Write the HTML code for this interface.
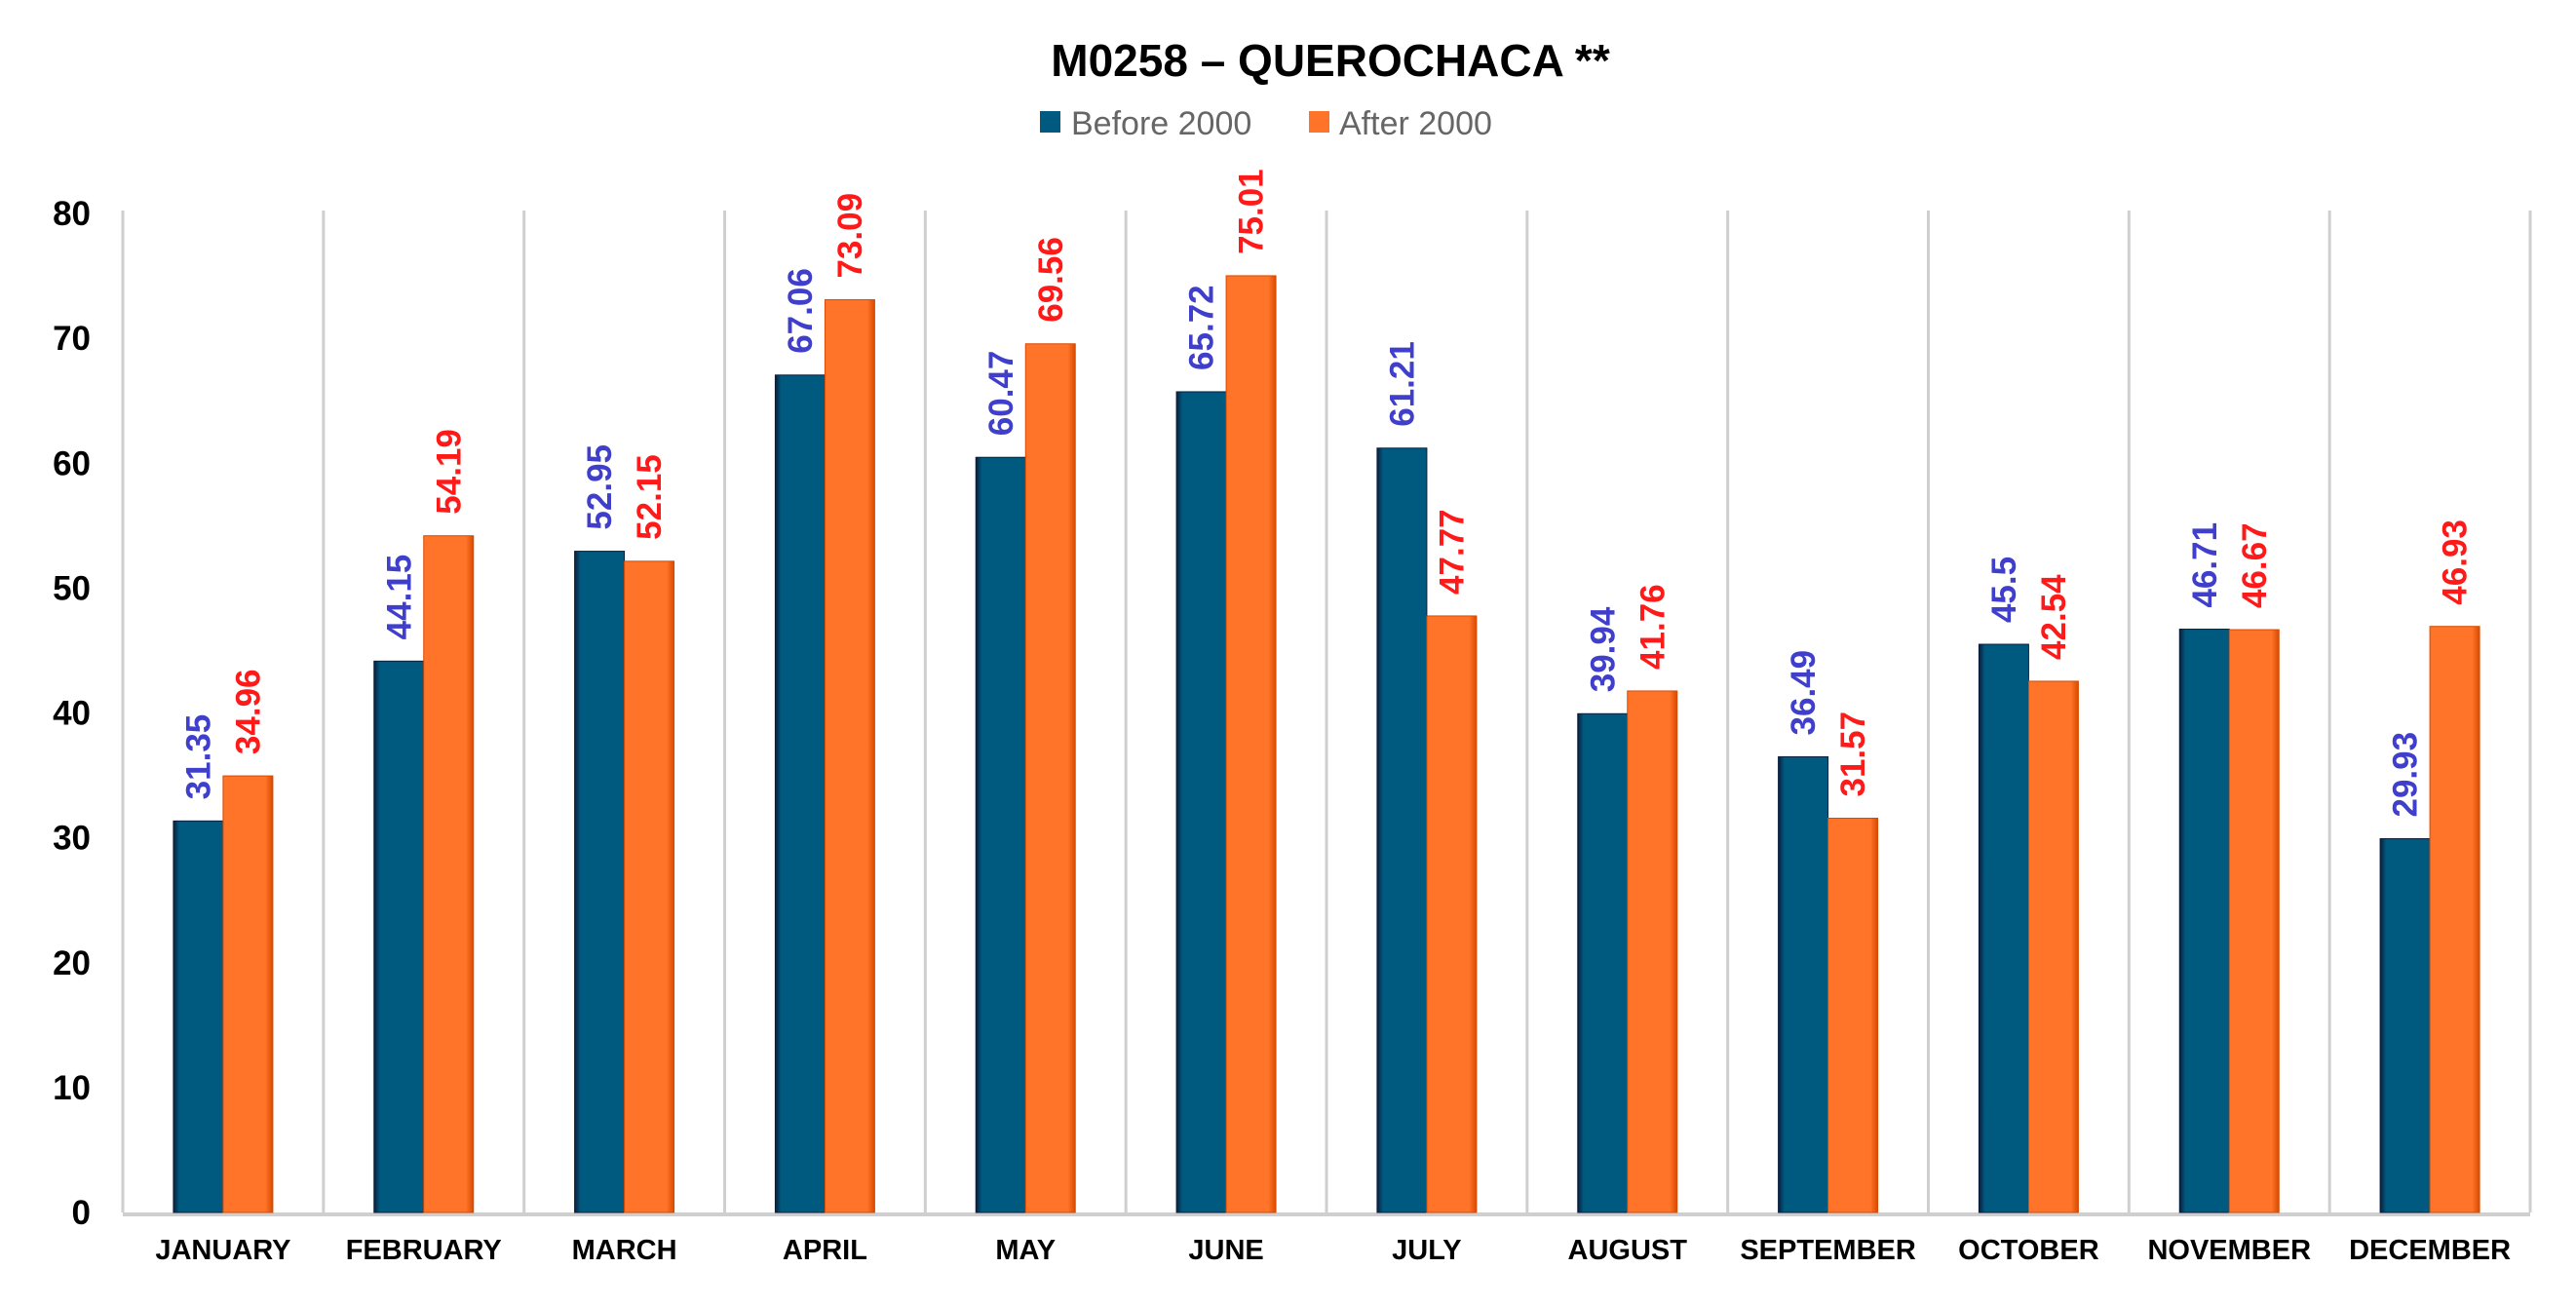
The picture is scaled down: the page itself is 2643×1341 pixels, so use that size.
<!DOCTYPE html>
<html><head><meta charset="utf-8"><style>
html,body{margin:0;padding:0;background:#fff;width:2643px;height:1341px;overflow:hidden}
svg{display:block}
</style></head><body>
<svg id="chart" width="2643" height="1341" viewBox="0 0 2643 1341" xmlns="http://www.w3.org/2000/svg" font-family="'Liberation Sans', sans-serif">
<defs>
<linearGradient id="gb" x1="0" x2="1" y1="0" y2="0"><stop offset="0" stop-color="#0a1e3c"/><stop offset="0.12" stop-color="#005a80"/><stop offset="1" stop-color="#005a80"/></linearGradient>
<linearGradient id="go" x1="0" x2="1" y1="0" y2="0"><stop offset="0" stop-color="#ff7428"/><stop offset="0.85" stop-color="#ff7428"/><stop offset="1" stop-color="#d84a00"/></linearGradient>
</defs>
<text x="1365" y="78" text-anchor="middle" font-size="46" font-weight="bold" fill="#000">M0258 – QUEROCHACA **</text>
<g>
<rect x="1067" y="114" width="21" height="22" fill="#005a80"/>
<text x="1099" y="138" font-size="34" fill="#666">Before 2000</text>
<rect x="1343" y="114" width="21" height="22" fill="#ff7428"/>
<text x="1374" y="138" font-size="34" fill="#666">After 2000</text>
</g>
<g id="grid"></g><g id="bars"></g><g id="labels"></g>
</svg>
<script>
const categories=["JANUARY","FEBRUARY","MARCH","APRIL","MAY","JUNE","JULY","AUGUST","SEPTEMBER","OCTOBER","NOVEMBER","DECEMBER"];
const before2000=[31.35,44.15,52.95,67.06,60.47,65.72,61.21,39.94,36.49,45.5,46.71,29.93];
const after2000=[34.96,54.19,52.15,73.09,69.56,75.01,47.77,41.76,31.57,42.54,46.67,46.93];
const yTicks=[0,10,20,30,40,50,60,70,80];
const NS="http://www.w3.org/2000/svg";
const x0=126,x1=2596,y0=1244,yTop=219,yMax=80;
const cw=(x1-x0)/categories.length,bw=51;
const y=v=>y0-(v/yMax)*(y0-yTop);
const xc=i=>x0+cw*(i+0.5);
function mk(t,a,p){const e=document.createElementNS(NS,t);for(const k in a)e.setAttribute(k,a[k]);p.appendChild(e);return e;}
const grid=document.getElementById('grid'),bars=document.getElementById('bars'),labels=document.getElementById('labels');
for(let i=0;i<=categories.length;i++){
 const l=mk('line',{x1:x0+cw*i,x2:x0+cw*i,y1:yTop-3,y2:y0,stroke:'#cfcfcf','stroke-width':3},grid);
 
 
}
const base=mk('line',{x1:x0,x2:x1,y1:y0+2,y2:y0+2,stroke:'#cfcfcf','stroke-width':4},grid);


yTicks.forEach(v=>{
 const t=mk('text',{x:93,y:y(v)+12,'text-anchor':'end','font-size':35,'font-weight':'bold',fill:'#000'},labels);
 t.textContent=v;
 
 
});
categories.forEach((c,i)=>{
 const cx=xc(i);
 const b=mk('rect',{x:cx-bw,y:y(before2000[i]),width:bw,height:y0-y(before2000[i]),fill:'url(#gb)',stroke:'#0a1e3c','stroke-width':1},bars);
 
 
 const a=mk('rect',{x:cx,y:y(after2000[i]),width:bw,height:y0-y(after2000[i]),fill:'url(#go)',stroke:'#d84a00','stroke-width':1},bars);
 
 
 const tb=mk('text',{transform:`translate(${cx-bw/2+12},${y(before2000[i])-22}) rotate(-90)`,'font-size':35,'font-weight':'bold',fill:'#3f3fcc'},labels);
 tb.textContent=before2000[i];
 
 
 const ta=mk('text',{transform:`translate(${cx+bw/2+12},${y(after2000[i])-22}) rotate(-90)`,'font-size':35,'font-weight':'bold',fill:'#ff1a1a'},labels);
 ta.textContent=after2000[i];
 
 
 const m=mk('text',{x:cx,y:1292,'text-anchor':'middle','font-size':29,'font-weight':'bold',fill:'#000'},labels);
 m.textContent=c;
 
 
});
</script>
</body></html>
